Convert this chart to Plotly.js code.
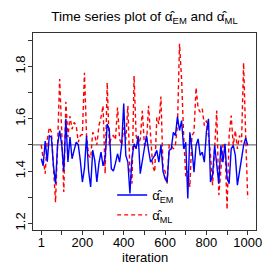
<!DOCTYPE html>
<html>
<head>
<meta charset="utf-8">
<script src="https://cdn.plot.ly/plotly-3.0.1.min.js"></script>
<style>html,body{margin:0;padding:0;background:#fff;}#chart{width:273px;height:273px;}</style>
</head>
<body>
<div id="chart"></div>
<script>
var iteration = [1,10,20,30,40,50,60,70,80,90,100,110,120,130,140,150,160,170,180,190,200,
  210,220,230,240,250,260,270,280,290,300,310,320,330,340,350,360,370,380,390,400,
  410,420,430,440,450,460,470,480,490,500,510,520,530,540,550,560,570,580,590,600,
  610,620,630,640,650,660,670,680,690,700,710,720,730,740,750,760,770,780,790,800,
  810,820,830,840,850,860,870,880,890,900,910,920,930,940,950,960,970,980,990,1000];

var alphaEM = [1.447,1.42,1.515,1.436,1.535,1.53,1.42,1.352,1.50,1.555,1.50,
  1.40,1.60,1.435,1.53,1.447,1.48,1.51,1.50,1.44,1.358,
  1.41,1.535,1.40,1.339,1.48,1.44,1.358,1.43,1.472,1.42,
  1.45,1.58,1.56,1.409,1.40,1.43,1.466,1.434,1.50,1.658,
  1.46,1.434,1.314,1.45,1.504,1.485,1.535,1.39,1.44,1.472,
  1.536,1.48,1.434,1.447,1.46,1.479,1.434,1.50,1.40,1.371,
  1.358,1.479,1.485,1.548,1.536,1.608,1.555,1.593,1.485,1.51,
  1.295,1.548,1.485,1.396,1.498,1.523,1.46,1.472,1.434,1.55,
  1.60,1.358,1.384,1.498,1.434,1.352,1.498,1.434,1.504,1.371,
  1.352,1.485,1.498,1.46,1.346,1.40,1.45,1.498,1.527,1.498];

var alphaML = [1.50,1.45,1.39,1.52,1.567,1.55,1.42,1.28,1.50,1.752,1.55,
  1.32,1.665,1.53,1.61,1.56,1.586,1.574,1.51,1.536,1.54,
  1.776,1.536,1.46,1.45,1.548,1.536,1.50,1.574,1.605,1.65,
  1.39,1.738,1.498,1.53,1.536,1.52,1.643,1.523,1.50,1.567,
  1.52,1.65,1.40,1.352,1.764,1.536,1.50,1.523,1.63,1.50,
  1.50,1.65,1.536,1.42,1.396,1.605,1.58,1.685,1.41,1.40,
  1.352,1.50,1.498,1.485,1.50,1.574,1.887,1.75,1.536,1.38,
  1.40,1.339,1.536,1.548,1.719,1.64,1.625,1.638,1.574,1.593,
  1.536,1.46,1.346,1.498,1.631,1.308,1.40,1.498,1.50,1.253,
  1.536,1.612,1.498,1.555,1.485,1.536,1.51,1.814,1.536,1.295];

var xTickVals = [1,200,400,600,800,1000];
var xTickText = ["1","200","400","600","800","1000"];
var xMinorVals = [100,300,500,700,900];
var yTickVals = [1.2,1.4,1.6,1.8];
var yTickText = ["1.2","1.4","1.6","1.8"];
var yMinorVals = [1.3,1.5,1.7,1.9];
var refLevel = 1.5;

var font = "Liberation Sans, Arial, Helvetica, sans-serif";

var traces = [
  {x: iteration, y: alphaML, type: "scatter", mode: "lines",
   name: "α\u0302<sub>ML</sub>",
   line: {color: "#FF0000", width: 1.4, dash: "4px,3px"}},
  {x: iteration, y: alphaEM, type: "scatter", mode: "lines",
   name: "α\u0302<sub>EM</sub>",
   line: {color: "#0000FF", width: 1.4}}
];

var layout = {
  width: 273, height: 273,
  margin: {l: 33, r: 17, t: 33, b: 43, pad: 0},
  paper_bgcolor: "#fff", plot_bgcolor: "#fff",
  font: {family: font, size: 13, color: "#000"},
  showlegend: true,
  title: {text: "Time series plot of α\u0302<sub>EM</sub> and α\u0302<sub>ML</sub>",
          x: 0.5, xref: "paper", y: 1 - 16/273, yref: "container", yanchor: "middle",
          font: {family: font, size: 13.5, color: "#000"}},
  xaxis: {range: [-39, 1040], tickmode: "array", tickvals: xTickVals, ticktext: xTickText,
          ticks: "outside", ticklen: 4, tickwidth: 1, tickcolor: "#333",
          minor: {tickmode: "array", tickvals: xMinorVals, ticks: "outside", ticklen: 4,
                  tickwidth: 1, tickcolor: "#333", showgrid: false},
          showline: true, linecolor: "#333", linewidth: 1, mirror: true,
          showgrid: false, zeroline: false, tickangle: 0, ticklabelstandoff: -4,
          tickfont: {family: font, size: 13, color: "#000"}},
  yaxis: {range: [1.1745, 1.928], tickmode: "array", tickvals: yTickVals, ticktext: yTickText,
          ticks: "outside", ticklen: 4, tickwidth: 1, tickcolor: "#333",
          minor: {tickmode: "array", tickvals: yMinorVals, ticks: "outside", ticklen: 4,
                  tickwidth: 1, tickcolor: "#333", showgrid: false},
          showline: true, linecolor: "#333", linewidth: 1, mirror: true,
          showgrid: false, zeroline: false, tickangle: -90, ticklabelstandoff: -2,
          tickfont: {family: font, size: 13, color: "#000"}},
  shapes: [{type: "line", xref: "paper", x0: 0, x1: 1, yref: "y", y0: refLevel, y1: refLevel,
            line: {color: "#555", width: 1}, layer: "below"}],
  annotations: [{text: "iteration", xref: "paper", yref: "paper", x: 0.5, y: -(257-230)/197,
                 xanchor: "center", yanchor: "middle", showarrow: false,
                 font: {family: font, size: 13, color: "#000"}}],
  legend: {x: 0.355, xanchor: "left", y: (230-180)/197, yanchor: "top",
           bgcolor: "rgba(0,0,0,0)", borderwidth: 0, traceorder: "reversed",
           font: {family: font, size: 13, color: "#000"}, itemwidth: 30, tracegroupgap: 0}
};

Plotly.newPlot("chart", traces, layout, {displayModeBar: false, staticPlot: true});
</script>
</body>
</html>
